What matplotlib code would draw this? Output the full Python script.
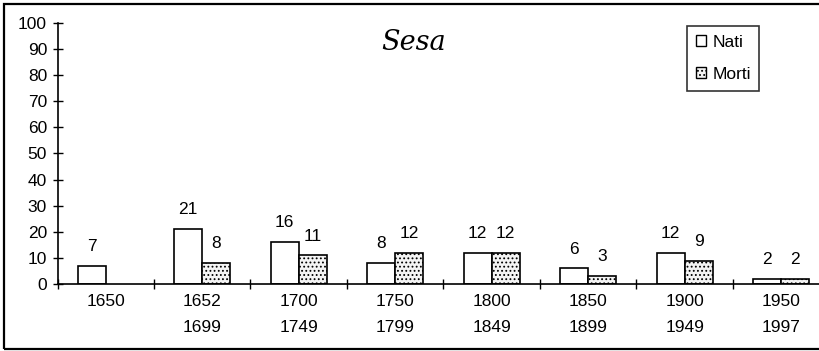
import matplotlib
matplotlib.use('Agg')
import matplotlib.pyplot as plt
from matplotlib.patches import Rectangle
import numpy as np

plt.rcParams['font.family'] = ['Liberation Sans', 'DejaVu Sans']
plt.rcParams['hatch.color'] = '#555555'
plt.rcParams['hatch.linewidth'] = 0.8

periodi = ['1650', '1652\n1699', '1700\n1749', '1750\n1799', '1800\n1849',
           '1850\n1899', '1900\n1949', '1950\n1997']
nati = [7, 21, 16, 8, 12, 6, 12, 2]
morti = [None, 8, 11, 12, 12, 3, 9, 2]

W, H = 820, 351
fig = plt.figure(figsize=(W / 100, H / 100), dpi=100)

# cornice esterna (tagliata a destra come nell'originale)
fig.patches.append(Rectangle((4 / W, 2 / H), 830 / W, 345 / H, transform=fig.transFigure,
                             fill=False, edgecolor='black', linewidth=1.6))

ax = fig.add_axes([57.5 / W, (H - 284) / H, 772 / W, (284 - 23) / H])
x = np.arange(len(periodi))
bw = 0.29
fs = 12.5

for i in range(len(periodi)):
    ax.bar(x[i] - bw / 2, nati[i], bw, facecolor='white', edgecolor='black', linewidth=1.2)
    ax.text(x[i] - bw / 2, nati[i] + 4.5, str(nati[i]), ha='center', va='bottom', fontsize=fs)
    if morti[i] is not None:
        ax.bar(x[i] + bw / 2, morti[i], bw, facecolor='#f4f4f4', edgecolor='black',
               linewidth=1.2, hatch='....')
        ax.text(x[i] + bw / 2, morti[i] + 4.5, str(morti[i]), ha='center', va='bottom', fontsize=fs)

ax.set_xlim(-0.5, len(periodi) - 0.5)
ax.set_ylim(0, 100)
ax.set_yticks(range(0, 101, 10))
ax.set_xticks(x)
ax.set_xticklabels(periodi, fontsize=fs, linespacing=1.9)
ax.set_xticks(np.arange(-0.5, len(periodi), 1), minor=True)
ax.tick_params(axis='x', which='major', length=0, pad=7)
ax.tick_params(axis='x', which='minor', direction='inout', length=7, width=1)
ax.tick_params(axis='y', direction='inout', length=7, width=1, labelsize=fs, pad=4)
for s in ['top', 'right']:
    ax.spines[s].set_visible(False)
for s in ['left', 'bottom']:
    ax.spines[s].set_linewidth(1.2)

fig.text(414 / W, 1 - 42 / H, 'Sesa', ha='center', va='center', fontsize=19.5,
         family='DejaVu Serif', style='italic')

# legenda
h1 = Rectangle((0, 0), 1, 1, facecolor='white', edgecolor='black', linewidth=1)
h2 = Rectangle((0, 0), 1, 1, facecolor='#f4f4f4', edgecolor='black', linewidth=1, hatch='....')
leg = fig.legend([h1, h2], ['Nati', 'Morti'], loc='upper left',
                 bbox_to_anchor=(687 / W, 1 - 26 / H), frameon=True, fancybox=False,
                 fontsize=12.5, handlelength=0.6, handleheight=0.6, handletextpad=0.35,
                 borderpad=0.5, labelspacing=1.0, borderaxespad=0)
leg.get_frame().set_edgecolor('black')
leg.get_frame().set_linewidth(1.2)

fig.savefig('out.png', dpi=100)
